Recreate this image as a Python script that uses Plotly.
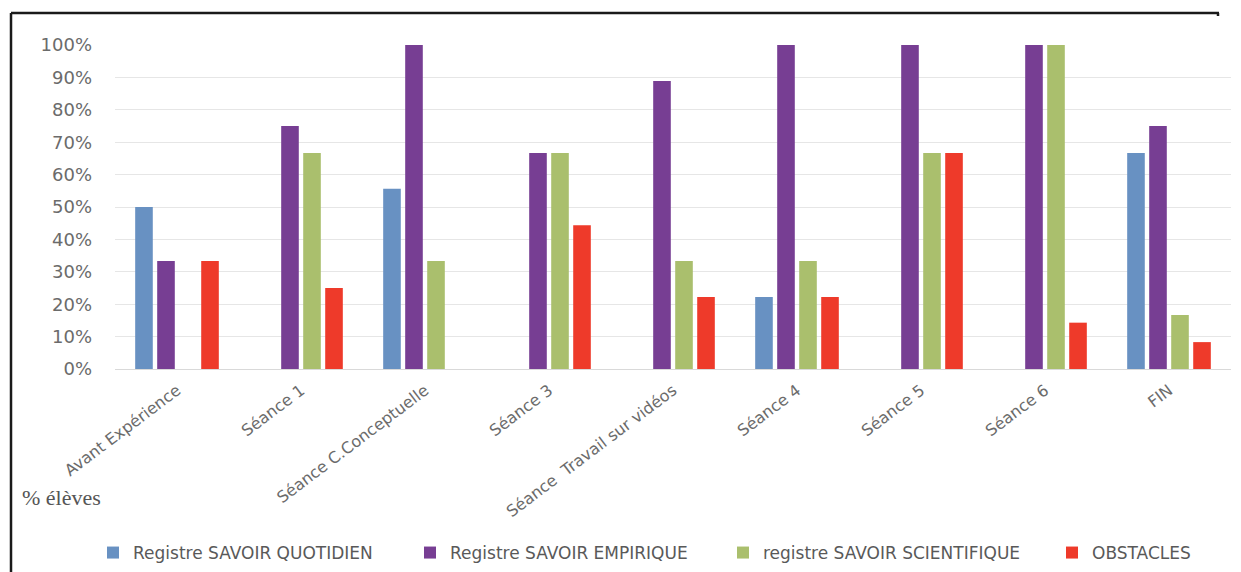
import plotly.graph_objects as go

categories = ["Avant Expérience", "Séance 1", "Séance C.Conceptuelle", "Séance 3",
              "Séance  Travail sur vidéos", "Séance 4", "Séance 5", "Séance 6", "FIN"]

quotidien = [50.0, 0, 55.6, 0, 0, 22.2, 0, 0, 66.7]
empirique = [33.3, 75.0, 100, 66.7, 88.9, 100, 100, 100, 75.0]
scientifique = [0, 66.7, 33.3, 66.7, 33.3, 33.3, 66.7, 100, 16.7]
obstacles = [33.3, 25.0, 0, 44.4, 22.2, 22.2, 66.7, 14.3, 8.3]

series_names = ["Registre SAVOIR QUOTIDIEN", "Registre SAVOIR EMPIRIQUE",
                "registre SAVOIR SCIENTIFIQUE", "OBSTACLES"]
series_values = [quotidien, empirique, scientifique, obstacles]
colors = ["#6891C2", "#773E93", "#AABF6D", "#EE3A2A"]
legend_ids = ["legend", "legend2", "legend3", "legend4"]
legend_left = [107, 424, 737, 1066]

y_ticks = [0, 10, 20, 30, 40, 50, 60, 70, 80, 90, 100]

# the page body has an 8px margin: the figure is drawn from (8, 8)
OFF = 8
W, H = 1241 - OFF, 572 - OFF


def px(x):
    return (x - OFF) / W


def py(y):
    return 1 - (y - OFF) / H


fig = go.Figure()
for name, vals, col, lid in zip(series_names, series_values, colors, legend_ids):
    fig.add_trace(go.Bar(x=categories, y=vals, name=name, legend=lid,
                         marker=dict(color=col, line=dict(width=0))))

legend_style = dict(orientation="h", yanchor="middle", xanchor="left",
                    font=dict(size=17, color="#595959"), bgcolor="rgba(0,0,0,0)")

layout_legends = {}
for lid, left in zip(legend_ids, legend_left):
    layout_legends[lid] = dict(legend_style, x=px(left - 14), y=py(553))

fig.update_layout(
    width=W, height=H, autosize=False,
    margin=dict(l=0, r=0, t=0, b=0, pad=0, autoexpand=False),
    paper_bgcolor="white", plot_bgcolor="white",
    barmode="group", bargap=0.29, bargroupgap=0.2,
    font=dict(family="DejaVu Sans", color="#6b6b6b"),
    xaxis=dict(domain=[px(115), px(1231)], showgrid=False, showline=True, automargin=False,
               linecolor="#d9d9d9", linewidth=1, ticks="", tickangle=-37,
               ticklabelstandoff=5,
               tickfont=dict(size=16, color="#6b6b6b")),
    yaxis=dict(domain=[py(369), py(45)], range=[0, 100], tickvals=y_ticks, automargin=False,
               ticktext=[f"{v}%" for v in y_ticks], showgrid=True,
               gridcolor="#e6e6e6", gridwidth=1, zeroline=False, showline=False,
               ticks="", ticklabelstandoff=22,
               tickfont=dict(size=18, color="#6b6b6b")),
    showlegend=True,
    **layout_legends,
)

fig.add_annotation(text="% élèves", xref="paper", yref="paper", x=px(20), y=py(497),
                   xanchor="left", yanchor="middle", showarrow=False,
                   font=dict(family="Liberation Serif", size=22, color="#555555"))

frame = dict(color="#1a1a1a", width=2.5)
fig.add_shape(type="line", xref="paper", yref="paper", x0=px(11), x1=px(11), y0=py(13), y1=py(572), line=frame)
fig.add_shape(type="line", xref="paper", yref="paper", x0=px(11), x1=px(1219), y0=py(13), y1=py(13), line=frame)
fig.add_shape(type="line", xref="paper", yref="paper", x0=px(1218), x1=px(1218), y0=py(13), y1=py(16), line=frame)

fig.write_html("out.html")
